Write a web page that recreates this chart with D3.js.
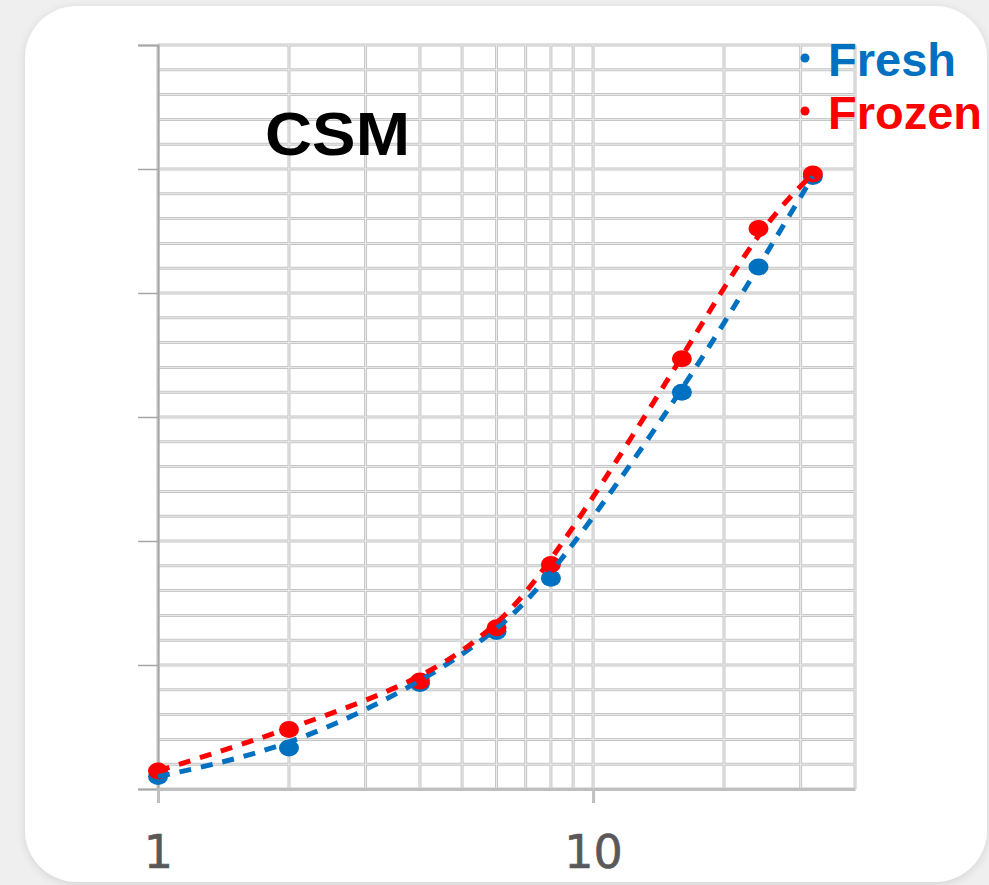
<!DOCTYPE html>
<html>
<head>
<meta charset="utf-8">
<script src="https://cdn.jsdelivr.net/npm/d3@7"></script>
<style>
  body { margin: 0; background: #efefef; }
  svg { display: block; }
</style>
</head>
<body>
<div class="chart"></div>
<script>
// data (x on a log scale, y unitless)
var sizes = [1, 2, 4, 6, 8, 16, 24, 32];
var fresh = [0.10, 0.33, 0.85, 1.27, 1.70, 3.20, 4.21, 4.94];
var frozen = [0.145, 0.48, 0.87, 1.30, 1.81, 3.47, 4.52, 4.96];
var seriesNames = ["Fresh", "Frozen"];
var seriesColors = ["#0070C0", "#FF0000"];
var xTickLabels = [1, 10];
var xGrid = [1, 2, 3, 4, 5, 6, 7, 8, 9, 10, 20, 30, 40];

var svgWidth = 989;
var svgHeight = 885;

var margin = { top: 45, right: 134, bottom: 96, left: 158 };
var width = svgWidth - margin.left - margin.right;
var height = svgHeight - margin.top - margin.bottom;

var svg = d3.select(".chart")
  .append("svg")
  .attr("width", svgWidth)
  .attr("height", svgHeight);

// card with soft shadow
var defs = svg.append("defs");
var filt = defs.append("filter").attr("id", "shadow")
  .attr("x", "-10%").attr("y", "-10%").attr("width", "120%").attr("height", "120%");
filt.append("feDropShadow")
  .attr("dx", 0).attr("dy", 2).attr("stdDeviation", 4)
  .attr("flood-color", "#000").attr("flood-opacity", 0.12);

svg.append("rect")
  .attr("x", 25).attr("y", 6)
  .attr("width", 962).attr("height", 876)
  .attr("rx", 52).attr("ry", 52)
  .attr("fill", "#fff")
  .attr("filter", "url(#shadow)");

var chartGroup = svg.append("g")
  .attr("transform", `translate(${margin.left}, ${margin.top})`);

var x = d3.scaleLog().domain([1, 40]).range([0, width]);
var y = d3.scaleLinear().domain([0, 6]).range([height, 0]);

// grid lines (double-line look)
var yGrid = d3.range(0, 6.001, 0.2);
function gridLines(cls, stroke, w) {
  var g = chartGroup.append("g").attr("class", cls);
  g.selectAll("line.h")
    .data(yGrid)
    .enter()
    .append("line")
    .attr("x1", 0).attr("x2", width)
    .attr("y1", d => y(d)).attr("y2", d => y(d))
    .attr("stroke", stroke).attr("stroke-width", w);
  g.selectAll("line.v")
    .data(xGrid)
    .enter()
    .append("line")
    .attr("x1", d => x(d)).attr("x2", d => x(d))
    .attr("y1", 0).attr("y2", height)
    .attr("stroke", stroke).attr("stroke-width", w);
}
gridLines("grid-outer", "#c6c6c6", 3);
gridLines("grid-inner", "#ececec", 1);

// y axis: line with outward ticks
var leftAxis = d3.axisLeft(y).tickValues(d3.range(0, 7, 1)).tickSize(20).tickFormat("");
var yAxis = chartGroup.append("g").call(leftAxis);
yAxis.select(".domain").attr("stroke", "#a6a6a6").attr("stroke-width", 2);
yAxis.selectAll(".tick line").attr("stroke", "#a6a6a6").attr("stroke-width", 1.5);

// x axis
var bottomAxis = d3.axisBottom(x).tickValues(xTickLabels).tickSize(14).tickSizeOuter(0).tickFormat(d3.format("d"));
var xAxis = chartGroup.append("g")
  .attr("transform", `translate(0, ${height})`)
  .call(bottomAxis);
xAxis.select(".domain").attr("stroke", "#bfbfbf").attr("stroke-width", 3);
xAxis.selectAll(".tick line").attr("stroke", "#bfbfbf").attr("stroke-width", 3);
xAxis.selectAll(".tick text")
  .attr("y", 46)
  .attr("dy", "0.71em")
  .attr("fill", "#595959")
  .attr("stroke", "#595959")
  .attr("stroke-width", 0.6)
  .style("font-family", "DejaVu Sans")
  .style("font-size", "46px");

// series
var series = [fresh, frozen];

series.forEach(function(vals, i) {
  chartGroup.selectAll("ellipse.s" + i)
    .data(vals)
    .enter()
    .append("ellipse")
    .attr("class", "s" + i)
    .attr("cx", (d, j) => x(sizes[j]))
    .attr("cy", d => y(d))
    .attr("rx", 10)
    .attr("ry", 8.5)
    .attr("fill", seriesColors[i]);
});

var line = d3.line()
  .x(d => x(d[0]))
  .y(d => y(d[1]))
  .curve(d3.curveBasis);

series.forEach(function(vals, i) {
  chartGroup.append("path")
    .datum(vals.map((v, j) => [sizes[j], v]))
    .attr("d", line)
    .attr("fill", "none")
    .attr("stroke", seriesColors[i])
    .attr("stroke-width", 5)
    .attr("stroke-dasharray", "12 10");
});

// title
svg.append("text")
  .attr("x", 265)
  .attr("y", 155)
  .attr("fill", "#000")
  .attr("textLength", 145)
  .attr("lengthAdjust", "spacingAndGlyphs")
  .style("font-family", "Liberation Sans, Arial, sans-serif")
  .style("font-weight", "bold")
  .style("font-size", "61px")
  .text("CSM");

// legend
var legend = svg.append("g");
seriesNames.forEach(function(name, i) {
  var ly = 76 + i * 53;
  legend.append("circle")
    .attr("cx", 805)
    .attr("cy", ly - 18)
    .attr("r", 4.5)
    .attr("fill", seriesColors[i]);
  legend.append("text")
    .attr("x", 828)
    .attr("y", ly)
    .attr("fill", seriesColors[i])
    .style("font-family", "Liberation Sans, Arial, sans-serif")
    .style("font-weight", "bold")
    .style("font-size", "47px")
    .text(name);
});
</script>
</body>
</html>
